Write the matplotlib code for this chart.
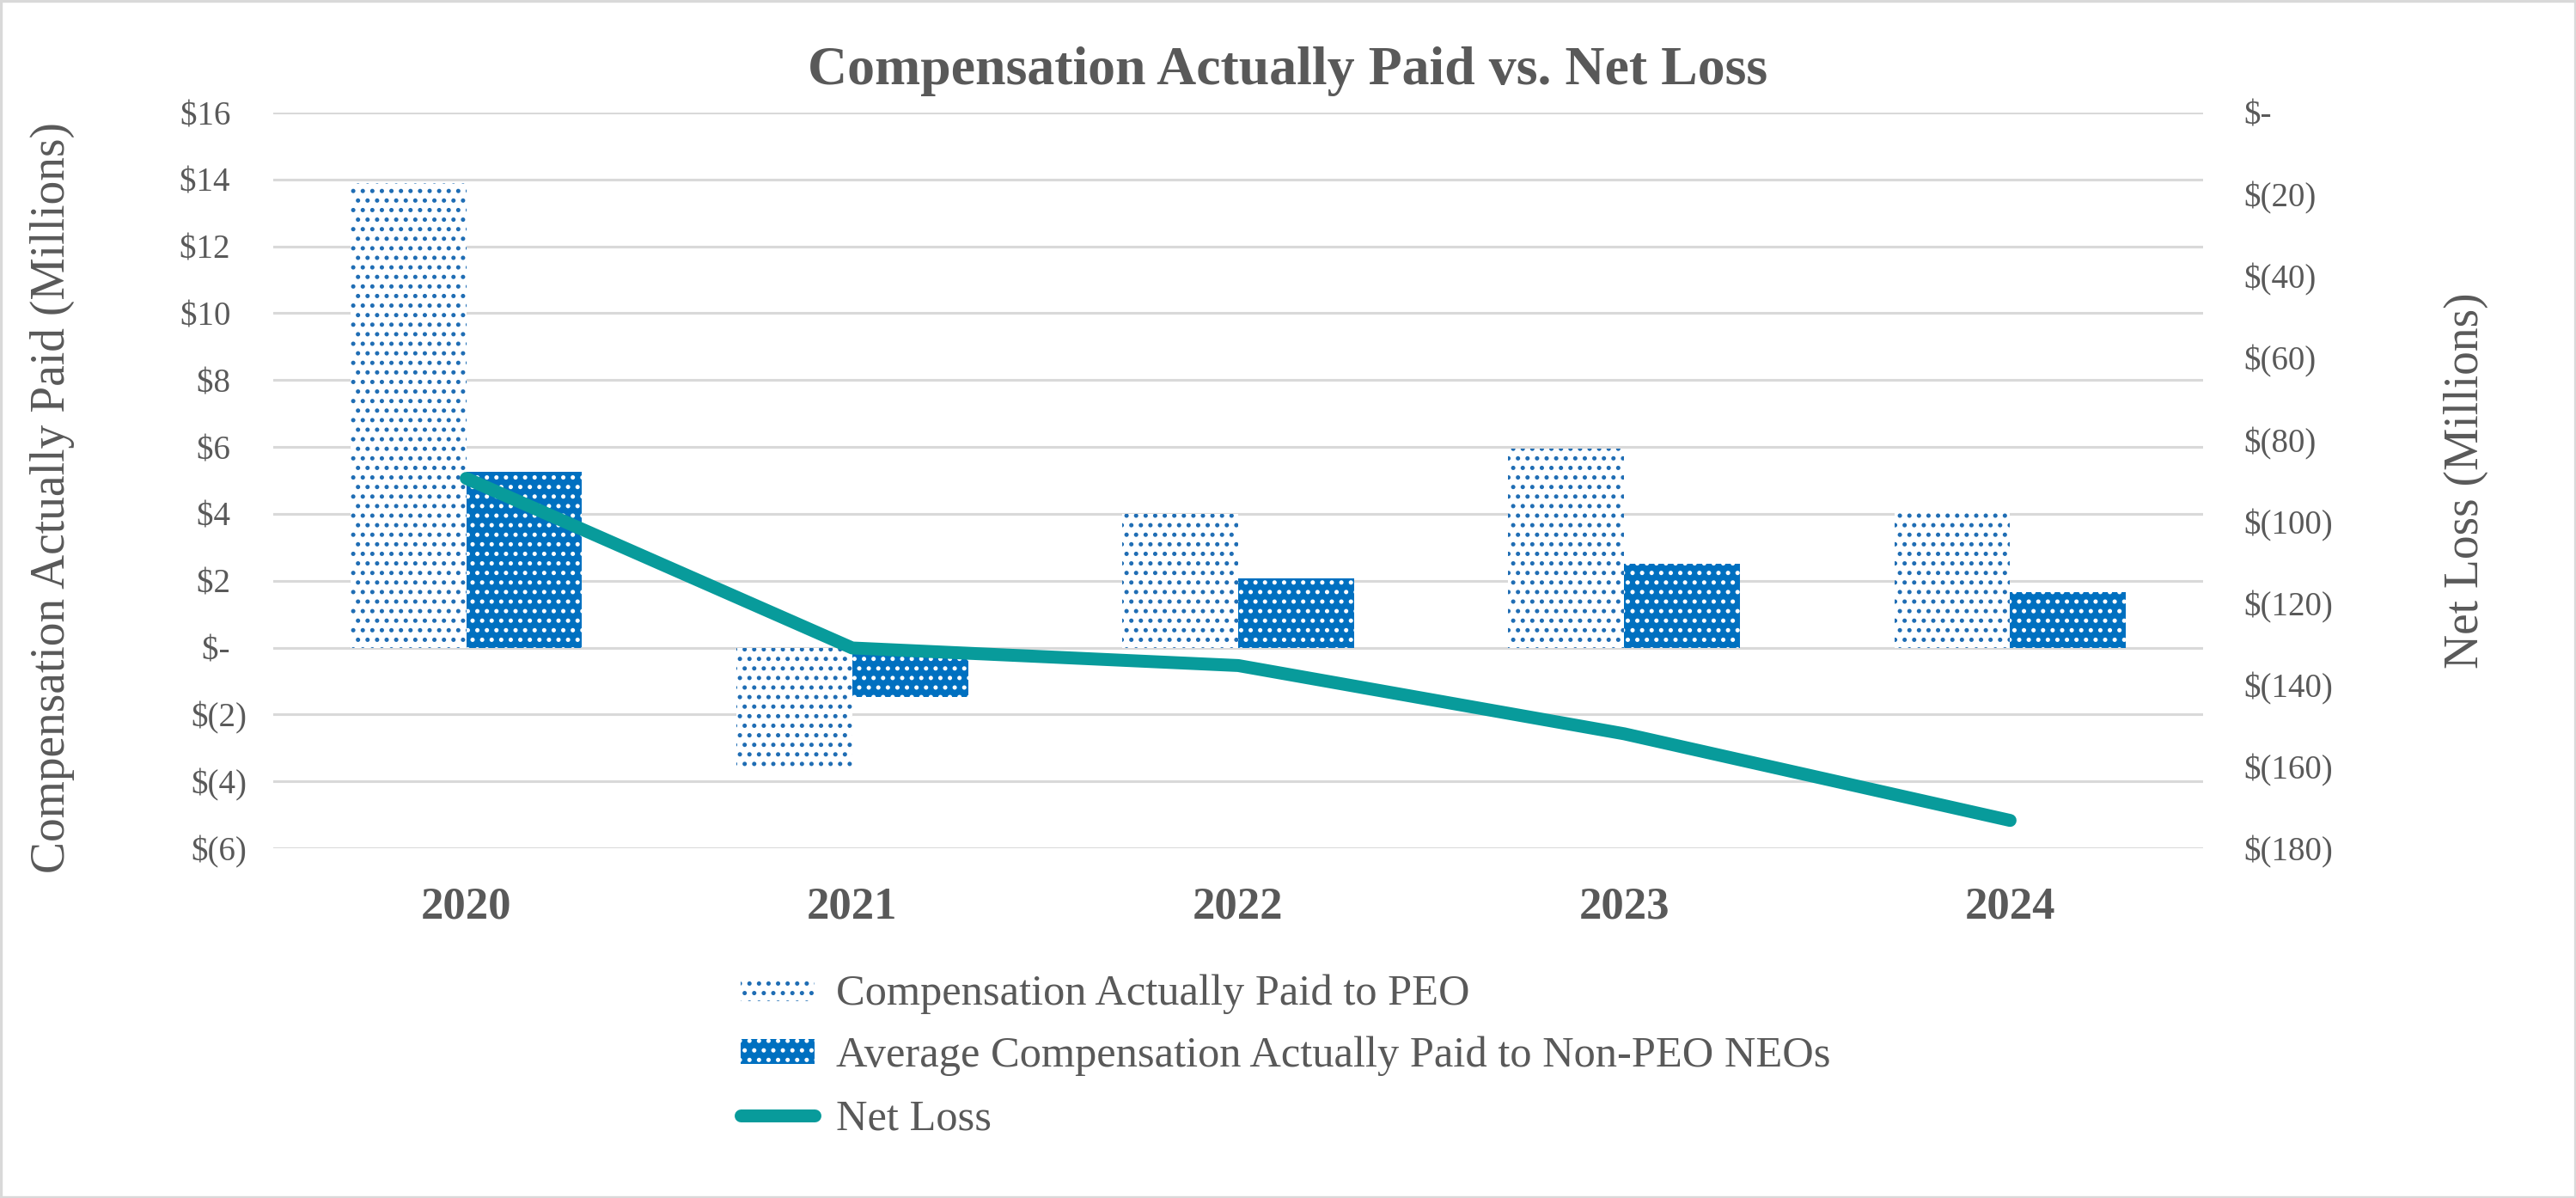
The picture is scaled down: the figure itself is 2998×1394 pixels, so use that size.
import matplotlib
matplotlib.use("Agg")
import matplotlib.pyplot as plt
from matplotlib.patches import Rectangle
from matplotlib.ticker import FixedLocator, FuncFormatter
import numpy as np

years = ["2020", "2021", "2022", "2023", "2024"]
peo_cap = [13.9, -3.55, 4.0, 5.95, 4.15]
non_peo_cap = [5.25, -1.48, 2.07, 2.50, 1.67]
net_loss = [-89.5, -131.0, -135.3, -152.0, -173.2]

left_ticks = list(range(-6, 17, 2))
right_ticks = list(range(-180, 1, 20))

GRAY = "#595959"
BLUE = "#0070C0"
DOT = "#1F6DB4"
TEAL = "#089B9B"
GRID = "#D9D9D9"

plt.rcParams["font.family"] = ["Liberation Serif", "DejaVu Serif"]
plt.rcParams["hatch.linewidth"] = 1.0

W, H, DPI = 2998, 1394, 200
fig = plt.figure(figsize=(W / DPI, H / DPI), dpi=DPI)
ax = fig.add_axes([318 / W, 1 - 987 / H, (2564 - 318) / W, (987 - 131) / H])
ax2 = ax.twinx()

x = np.arange(len(years))
bw = 0.3
b1 = ax.bar(x - bw / 2, peo_cap, bw, facecolor="white", edgecolor=DOT, hatch="...",
            linewidth=0, label="Compensation Actually Paid to PEO", zorder=2)
b2 = ax.bar(x + bw / 2, non_peo_cap, bw, facecolor=BLUE, edgecolor="white", hatch="...",
            linewidth=0, label="Average Compensation Actually Paid to Non-PEO NEOs", zorder=2)
ln, = ax2.plot(x, net_loss, color=TEAL, lw=5.4, solid_capstyle="round",
               solid_joinstyle="round", label="Net Loss", zorder=3)

ax.set_xlim(-0.5, len(years) - 0.5)
ax.set_ylim(-6, 16)
ax2.set_ylim(-180, 0)
ax.yaxis.set_major_locator(FixedLocator(left_ticks))
ax2.yaxis.set_major_locator(FixedLocator(right_ticks))


def fmt_left(v, pos):
    v = int(round(v))
    if v == 0:
        return "$-  "
    if v < 0:
        return "$(%d)" % (-v)
    return "$%d  " % v


def fmt_right(v, pos):
    v = int(round(v))
    if v == 0:
        return "$-"
    if v < 0:
        return "$(%d)" % (-v)
    return "$%d" % v


ax.yaxis.set_major_formatter(FuncFormatter(fmt_left))
ax2.yaxis.set_major_formatter(FuncFormatter(fmt_right))
ax.set_xticks(x)
ax.set_xticklabels(years)

ax.grid(axis="y", color=GRID, lw=1.1)
ax.set_axisbelow(True)
for a in (ax, ax2):
    for s in a.spines.values():
        s.set_visible(False)
ax.tick_params(axis="y", length=0, pad=11, labelsize=14, labelcolor=GRAY)
ax.tick_params(axis="x", length=0, pad=16, labelsize=19, labelcolor=GRAY)
ax2.tick_params(axis="y", length=0, pad=17, labelsize=14, labelcolor=GRAY)
for t in ax.get_xticklabels():
    t.set_fontweight("bold")

ax.set_ylabel("Compensation Actually Paid (Millions)", fontsize=20, color=GRAY)
ax.yaxis.set_label_coords(-0.1028, 0.477)
ax2.set_ylabel("Net Loss (Millions)", fontsize=20, color=GRAY, rotation=90)
ax2.yaxis.set_label_coords(1.1247, 0.5)

fig.text(0.5, 1 - 83 / H, "Compensation Actually Paid vs. Net Loss", ha="center", va="center",
         fontsize=23, fontweight="bold", color=GRAY)

leg = fig.legend(handles=[b1, b2, ln], loc="upper left",
                 bbox_to_anchor=(862 / W, 1 - 1133 / H), frameon=False, fontsize=18.2,
                 handlelength=1.7, handleheight=0.5, handletextpad=0.5, labelspacing=0.52,
                 borderpad=0, borderaxespad=0)
for t in leg.get_texts():
    t.set_color(GRAY)

fig.patches.append(Rectangle((0.0005, 0.001), 0.999, 0.998, transform=fig.transFigure,
                             fill=False, edgecolor=GRID, lw=1.2))

fig.savefig("out.png", dpi=DPI)
